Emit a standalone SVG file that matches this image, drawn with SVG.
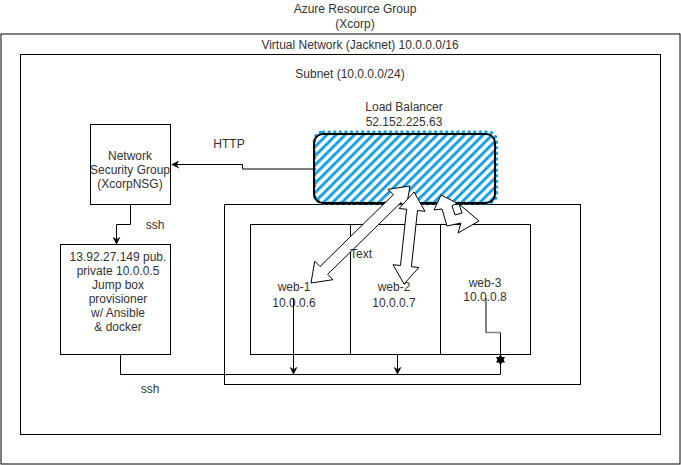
<svg xmlns="http://www.w3.org/2000/svg" width="681" height="465" viewBox="0 0 681 465">
<defs>
<style>
.box{fill:none;stroke:#000;stroke-width:1}
.ln{fill:none;stroke:#000;stroke-width:1}
.t{font-family:"Liberation Sans",Arial,sans-serif;font-size:12px;fill:#333;text-anchor:middle}
.flex{fill:#fff;stroke:#000;stroke-width:1;stroke-linejoin:miter}
</style>
<pattern id="hatch" width="6.5" height="6.5" patternUnits="userSpaceOnUse" patternTransform="rotate(45)">
<rect x="0" y="0" width="3" height="6.5" fill="#1BA1E2"/>
</pattern>
<marker id="arr" viewBox="0 0 10 10" refX="9" refY="5" markerWidth="8" markerHeight="8" markerUnits="userSpaceOnUse" orient="auto">
<path d="M0,0 L10,5 L0,10 L3,5 Z" fill="#000"/>
</marker>
</defs>
<rect width="681" height="465" fill="#fff"/>

<g id="resource-group">
<text class="t" x="355" y="13">Azure Resource Group</text>
<text class="t" x="355" y="28">(Xcorp)</text>
</g>
<g id="vnet">
<rect class="box" x="1" y="34" width="679" height="430"/>
<text class="t" x="360" y="49">Virtual Network (Jacknet) 10.0.0.0/16</text>
</g>
<g id="subnet">
<rect class="box" x="20.5" y="54.5" width="640" height="380"/>
<text class="t" x="350" y="78">Subnet (10.0.0.0/24)</text>
</g>

<g id="web-group">
<rect class="box" x="224.5" y="204.5" width="356" height="180"/>
</g>
<g id="web-1">
<rect class="box" x="250.5" y="224.5" width="100" height="130"/>
<text class="t" x="294" y="291">web-1</text>
<text class="t" x="294" y="307">10.0.0.6</text>
</g>
<g id="web-2">
<rect class="box" x="350.5" y="224.5" width="90" height="130"/>
<text class="t" x="394" y="291">web-2</text>
<text class="t" x="394" y="307">10.0.0.7</text>
</g>
<g id="web-3">
<rect class="box" x="440.5" y="224.5" width="90" height="130"/>
<text class="t" x="485" y="287">web-3</text>
<text class="t" x="485" y="301">10.0.0.8</text>
</g>

<g id="nsg">
<rect class="box" x="90.5" y="124.5" width="80" height="80"/>
<text class="t" x="130" y="160">Network</text>
<text class="t" x="130" y="174">Security Group</text>
<text class="t" x="130" y="188">(XcorpNSG)</text>
</g>

<g id="jumpbox">
<rect class="box" x="60.5" y="244.5" width="110" height="110"/>
<text class="t" x="118" y="261">13.92.27.149 pub.</text>
<text class="t" x="118" y="275">private 10.0.0.5</text>
<text class="t" x="118" y="289">Jump box</text>
<text class="t" x="118" y="303">provisioner</text>
<text class="t" x="118" y="317">w/ Ansible</text>
<text class="t" x="118" y="331">&amp; docker</text>
</g>

<g id="load-balancer">
<text class="t" x="404" y="111">Load Balancer</text>
<text class="t" x="404" y="126">52.152.225.63</text>
<rect x="314" y="134" width="181" height="69" rx="9" fill="url(#hatch)"/>
<rect x="314.5" y="132" width="182" height="71" rx="9" fill="none" stroke="#1BA1E2" stroke-width="3.5" stroke-dasharray="0.1 5.5" stroke-linecap="round"/>
<rect x="314" y="134" width="181" height="69" rx="9" fill="none" stroke="#000" stroke-width="2"/>
</g>

<g id="connectors">
<polyline class="ln" points="314,169 242.5,169 242.5,164.5 172,164.5" marker-end="url(#arr)"/>
<text class="t" x="229" y="148">HTTP</text>
<polyline class="ln" points="130.5,204 130.5,224.5 116.5,224.5 116.5,244" marker-end="url(#arr)"/>
<text class="t" x="155" y="229">ssh</text>
<polyline class="ln" points="120.5,354 120.5,374.5 500.5,374.5 500.5,332.5"/>
<polyline points="486,332.5 500.5,332.5" fill="none" stroke="#808080" stroke-width="1.5"/>
<polyline class="ln" points="486,298 486,332.5"/>
<polygon points="500.5,354 505,362.5 496,362.5" fill="#000"/>
<polygon points="500.5,365.5 505,357 496,357" fill="#000"/>
<text class="t" x="150" y="393">ssh</text>
<polyline class="ln" points="293.5,298 293.5,374" marker-end="url(#arr)"/>
<polyline class="ln" points="397.5,354 397.5,374" marker-end="url(#arr)"/>
<polygon class="flex" points="410,186 406.25,207.9 401,202.5 327.7,274.3 332.95,279.7 311,283 314.75,261.1 320,266.5 393.3,194.7 388.05,189.3"/>
<polygon class="flex" points="414,192 425,211.3 417.5,210.5 411.4,266.7 418.9,267.5 404,284 393,264.7 400.5,265.5 406.6,209.3 399.1,208.5"/>
<polygon class="flex" points="441,195 457,203 452,206 455,215 462,213 459,204 479,221 458,233 461,223 447,226 442,209 434,210"/>
<text x="350" y="258" style="font-family:'Liberation Sans',Arial,sans-serif;font-size:12px;fill:#333">Text</text>
</g>
</svg>
